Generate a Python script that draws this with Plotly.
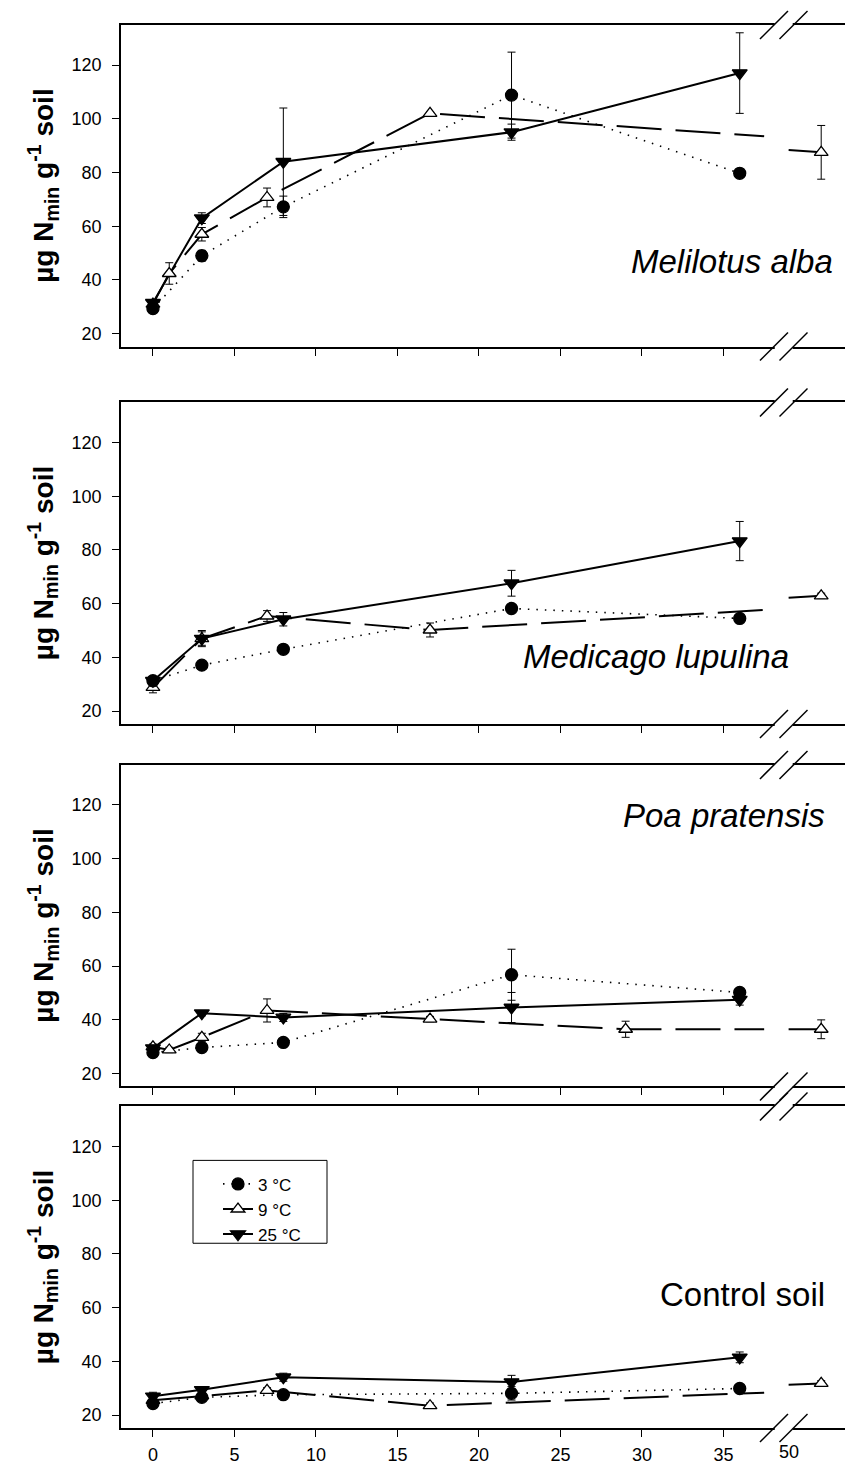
import plotly.graph_objects as go

# ---------------- data (days, µg Nmin g-1 soil) ----------------
days_3c = [0, 3, 8, 22, 36]
days_25c = [0, 3, 8, 22, 36]
days_9c_mel = [0, 1, 3, 7, 17, 52]
days_9c_med = [0, 3, 7, 17, 52]
days_9c_poa = [0, 1, 3, 7, 17, 29, 52]
days_9c_ctl = [0, 3, 7, 17, 52]

# Melilotus alba
mel_3c = [29.3, 49.0, 67.2, 108.8, 79.7]
mel_3c_err = [1.0, 2.0, 4.0, 16.0, 1.5]
mel_9c = [31.0, 42.4, 57.0, 70.7, 102.0, 87.5]
mel_9c_err = [1.0, 4.0, 2.5, 3.5, 0.5, 10.0]
mel_25c = [31.5, 63.0, 84.0, 95.0, 117.0]
mel_25c_err = [1.0, 2.0, 20.0, 3.0, 15.0]

# Medicago lupulina
med_3c = [31.3, 37.1, 43.0, 58.2, 54.5]
med_3c_err = [1.0, 1.0, 1.0, 1.5, 1.0]
med_9c = [28.8, 47.0, 55.4, 50.2, 62.9]
med_9c_err = [2.0, 2.5, 2.0, 2.6, 1.0]
med_25c = [31.3, 47.0, 54.2, 67.6, 83.3]
med_25c_err = [1.5, 3.0, 2.5, 4.8, 7.3]

# Poa pratensis
poa_3c = [27.8, 29.7, 31.6, 56.8, 50.2]
poa_3c_err = [1.0, 1.0, 1.0, 9.5, 1.5]
poa_9c = [30.0, 28.8, 33.5, 43.5, 40.3, 36.5, 36.5]
poa_9c_err = [1.0, 1.0, 1.5, 4.3, 1.0, 3.0, 3.5]
poa_25c = [29.5, 42.5, 40.9, 44.6, 47.5]
poa_25c_err = [1.0, 1.0, 1.5, 5.6, 2.0]

# Control soil
ctl_3c = [24.3, 26.6, 27.6, 28.1, 29.9]
ctl_3c_err = [1.5, 1.5, 1.0, 2.5, 1.0]
ctl_9c = [25.5, 27.2, 29.2, 23.5, 31.8]
ctl_9c_err = [1.0, 1.0, 1.0, 1.0, 1.0]
ctl_25c = [27.0, 29.4, 34.1, 32.3, 41.5]
ctl_25c_err = [1.5, 1.0, 1.5, 2.5, 2.0]

panel_names = ["Melilotus alba", "Medicago lupulina", "Poa pratensis", "Control soil"]
series_labels = ["3 °C", "9 °C", "25 °C"]
x_tick_days = [0, 5, 10, 15, 20, 25, 30, 35]
x_after_break_days = [50]
y_ticks = [20, 40, 60, 80, 100, 120]

panels = [
    (days_3c, mel_3c, mel_3c_err, days_9c_mel, mel_9c, mel_9c_err, days_25c, mel_25c, mel_25c_err),
    (days_3c, med_3c, med_3c_err, days_9c_med, med_9c, med_9c_err, days_25c, med_25c, med_25c_err),
    (days_3c, poa_3c, poa_3c_err, days_9c_poa, poa_9c, poa_9c_err, days_25c, poa_25c, poa_25c_err),
    (days_3c, ctl_3c, ctl_3c_err, days_9c_ctl, ctl_9c, ctl_9c_err, days_25c, ctl_25c, ctl_25c_err),
]

# ---------------- broken x axis ----------------
BREAK_LO = 37.5   # last day drawn before the break
BREAK_HI = 50.0   # first day drawn after the break
BREAK_GAP = 1.5   # width of the break on the axis (day units)


def to_axis(d):
    return d if d <= BREAK_LO else d - (BREAK_HI - BREAK_LO - BREAK_GAP)


def broken_line(xs, ys):
    px, py = [], []
    for i, (x, y) in enumerate(zip(xs, ys)):
        if i > 0:
            x0, y0 = xs[i - 1], ys[i - 1]
            if x0 < BREAK_LO and x >= BREAK_HI:
                ylo = y0 + (y - y0) * (BREAK_LO - x0) / (x - x0)
                yhi = y0 + (y - y0) * (BREAK_HI - x0) / (x - x0)
                px += [to_axis(BREAK_LO), None, to_axis(BREAK_HI)]
                py += [ylo, None, yhi]
        px.append(to_axis(x))
        py.append(y)
    return px, py


# ---------------- styles ----------------
FONT = "Liberation Sans, Arial, sans-serif"
styles = [
    dict(dash="1.5px,7px", width=1.6, symbol="circle", mcolor="black", msize=12),
    dict(dash="45px,14px", width=2.0, symbol="triangle-up", mcolor="white", msize=12),
    dict(dash="solid", width=2.0, symbol="triangle-down", mcolor="black", msize=13),
]

# layout geometry (pixels)
W, H = 845, 1465
ML, MR, MT, MB = 121, 0, 25, 35
PLOT_H = H - MT - MB
PW = W - ML - MR
panel_tops = [25, 403, 766, 1108]
panel_h = 322
x_range = [-1.96, 42.46]
y_range = [15.2, 134.9]

fig = go.Figure()
layout = dict(
    width=W, height=H,
    margin=dict(l=ML, r=MR, t=MT, b=MB),
    paper_bgcolor="white", plot_bgcolor="white",
    font=dict(family=FONT, size=18, color="black"),
    showlegend=True,
)
shapes, annotations = [], []

for p, data in enumerate(panels):
    idx = "" if p == 0 else str(p + 1)
    xa, ya = "x" + idx, "y" + idx
    top = panel_tops[p]
    dom = [(H - MB - (top + panel_h)) / PLOT_H, (H - MB - top) / PLOT_H]
    last = p == len(panels) - 1
    layout["xaxis" + idx] = dict(
        domain=[0, 1], anchor=ya, range=x_range,
        tickvals=[to_axis(d) for d in x_tick_days],
        ticktext=[str(d) for d in x_tick_days],
        showticklabels=last, ticks="outside", ticklen=7, tickwidth=1, tickcolor="black",
        showline=True, linewidth=2, linecolor="black", mirror=True,
        showgrid=False, zeroline=False, tickfont=dict(size=18, family=FONT),
        ticklabelstandoff=2,
    )
    layout["yaxis" + idx] = dict(
        domain=dom, anchor=xa, range=y_range, tickvals=y_ticks,
        ticks="outside", ticklen=7, tickwidth=1, tickcolor="black",
        showline=True, linewidth=1.5, linecolor="black",
        showgrid=False, zeroline=False, tickfont=dict(size=18, family=FONT),
        ticklabelstandoff=7,
    )

    groups = [(data[0], data[1], data[2]), (data[3], data[4], data[5]), (data[6], data[7], data[8])]
    # lines
    for s, (dx, vy, er) in enumerate(groups):
        st = styles[s]
        lx, ly = broken_line(dx, vy)
        fig.add_trace(go.Scatter(
            x=lx, y=ly, xaxis=xa, yaxis=ya, mode="lines", showlegend=False,
            line=dict(color="black", width=st["width"], dash=st["dash"]),
            connectgaps=False, hoverinfo="skip",
        ))
    # markers with error bars
    for s in [1, 0, 2]:
        dx, vy, er = groups[s]
        st = styles[s]
        fig.add_trace(go.Scatter(
            x=[to_axis(d) for d in dx], y=vy, xaxis=xa, yaxis=ya, mode="markers",
            showlegend=False,
            marker=dict(symbol=st["symbol"], size=st["msize"], color=st["mcolor"],
                        line=dict(color="black", width=1.3)),
            error_y=dict(type="data", array=er, visible=True, color="black",
                         thickness=1, width=4),
        ))

    # y axis title
    annotations.append(dict(
        text="<b>µg N<sub>min</sub> g<sup>-1</sup> soil</b>",
        xref="paper", yref=ya + " domain", x=(43 - ML) / PW, y=0.5,
        xanchor="center", yanchor="middle", textangle=-90, showarrow=False,
        font=dict(size=28, family=FONT),
    ))

    # axis-break marks (top and bottom frame lines)
    for yd in (0, 1):
        shapes.append(dict(
            type="rect", xref=xa, yref=ya + " domain", xsizemode="pixel", ysizemode="pixel",
            xanchor=38.7, yanchor=yd, x0=-9, x1=9, y0=-3, y1=3,
            fillcolor="white", line=dict(width=0), layer="above",
        ))
        for xc in (38.1, 39.3):
            shapes.append(dict(
                type="line", xref=xa, yref=ya + " domain", xsizemode="pixel", ysizemode="pixel",
                xanchor=xc, yanchor=yd, x0=-14, x1=14, y0=-14, y1=14,
                line=dict(color="black", width=1.5), layer="above",
            ))

# panel labels
label_pos = [(835, 47), (791, 40.5), (827, 116), (827, 65)]
for p, name in enumerate(panel_names):
    idx = "" if p == 0 else str(p + 1)
    txt = name if name == "Control soil" else "<i>" + name + "</i>"
    xr, yv = label_pos[p]
    annotations.append(dict(
        text=txt, xref="paper", yref="y" + idx, x=(xr - ML) / PW, y=yv,
        xanchor="right", yanchor="middle", showarrow=False,
        font=dict(size=33, family=FONT),
    ))

# "50" tick label after the break (bottom panel)
for d in x_after_break_days:
    annotations.append(dict(
        text=str(d), xref="x4", yref="y4 domain", x=to_axis(d), y=0,
        xanchor="center", yanchor="top", yshift=-12, showarrow=False,
        font=dict(size=18, family=FONT),
    ))

# legend entries (legend only)
for s, lab in enumerate(series_labels):
    st = styles[s]
    fig.add_trace(go.Scatter(
        x=[None], y=[None], xaxis="x4", yaxis="y4", mode="lines+markers", name=lab,
        line=dict(color="black", width=st["width"], dash=st["dash"]),
        marker=dict(symbol=st["symbol"], size=st["msize"], color=st["mcolor"],
                    line=dict(color="black", width=1.3)),
    ))

# legend frame
shapes.append(dict(
    type="rect", xref="paper", yref="paper",
    x0=(193 - ML) / PW, x1=(327 - ML) / PW,
    y0=(H - MB - 1245) / PLOT_H, y1=(H - MB - 1162) / PLOT_H,
    line=dict(color="black", width=1), fillcolor="rgba(0,0,0,0)", layer="above",
))
layout["legend"] = dict(
    x=(218 - ML) / PW, y=(H - MB - 1168) / PLOT_H, xanchor="left", yanchor="top",
    bgcolor="rgba(0,0,0,0)", borderwidth=0, font=dict(size=17, family=FONT),
    tracegroupgap=0, itemwidth=30,
)
layout["shapes"] = shapes
layout["annotations"] = annotations
fig.update_layout(**layout)
fig.write_html("out.html", config={"displayModeBar": False},
               post_script="document.body.style.margin='0px';")
